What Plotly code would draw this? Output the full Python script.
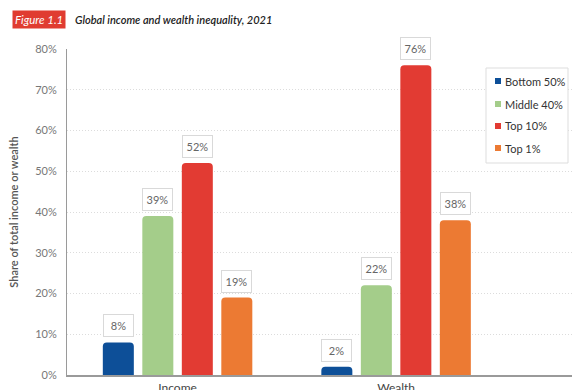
import plotly.graph_objects as go

# ---- data ----
categories = ["Income", "Wealth"]
groups = ["Bottom 50%", "Middle 40%", "Top 10%", "Top 1%"]
bottom50 = [8, 2]
middle40 = [39, 22]
top10 = [52, 76]
top1 = [19, 38]
series = [bottom50, middle40, top10, top1]
colors = ["#0D4F98", "#A4CD8A", "#E23B33", "#EC7A33"]
y_tick_vals = [0, 10, 20, 30, 40, 50, 60, 70, 80]
y_tick_text = [f"{v}%" for v in y_tick_vals]

title_tag = "Figure 1.1"
title_text = "Global income and wealth inequality, 2021"
y_title = "Share of total income or wealth"

# ---- layout constants ----
W, H = 572, 390
ML, MR, MT, MB = 67, 0, 49, 15
PW, PH = W - ML - MR, H - MT - MB
BARGAP = 0.277
BARGROUPGAP = 0.215
FONT = "Lato"

def px_x(px):
    return (px - ML) / PW

def px_y(py):
    return (H - MB - py) / PH

xpos = list(range(len(categories)))

fig = go.Figure()
for name, vals, col in zip(groups, series, colors):
    fig.add_trace(go.Bar(
        x=xpos, y=vals, name=name, marker=dict(color=col, line=dict(width=0)),
        showlegend=False, hoverinfo="skip",
    ))

# value labels in boxes
slot = (1 - BARGAP) / len(groups)
annotations = []
for gi, vals in enumerate(series):
    for ci, v in enumerate(vals):
        annotations.append(dict(
            x=ci + (gi - (len(groups) - 1) / 2) * slot, y=v, xref="x", yref="y",
            text=f"{v}%", showarrow=False, yanchor="bottom", yshift=5,
            font=dict(family=FONT, size=11, color="#666"),
            bgcolor="white", bordercolor="#D9D9D9", borderwidth=1,
            borderpad=2, width=25, height=17, align="center", valign="middle",
        ))

# title
annotations.append(dict(
    x=px_x(12), y=px_y(19), xref="paper", yref="paper", xanchor="left", yanchor="middle",
    text=title_tag, showarrow=False, bgcolor="#E03C31", borderpad=2,
    font=dict(family=FONT, size=11.5, color="white", style="italic"),
))
annotations.append(dict(
    x=px_x(73), y=px_y(19), xref="paper", yref="paper", xanchor="left", yanchor="middle",
    text=title_text, showarrow=False,
    font=dict(family=FONT, size=11, color="#222", style="italic", weight=600),
))

# custom legend
shapes = [dict(type="rect", xref="paper", yref="paper",
               x0=px_x(486), x1=px_x(568), y0=px_y(163), y1=px_y(68),
               line=dict(color="#DDDDDD", width=1), fillcolor="white", layer="above")]
legend_y = [81, 104, 126, 148]
for name, col, ly in zip(groups, colors, legend_y):
    shapes.append(dict(type="rect", xref="paper", yref="paper",
                       x0=px_x(495), x1=px_x(501), y0=px_y(ly + 3), y1=px_y(ly - 3),
                       line=dict(width=0), fillcolor=col, layer="above"))
    annotations.append(dict(
        x=px_x(503), y=px_y(ly), xref="paper", yref="paper", xanchor="left", yanchor="middle",
        text=name, showarrow=False, font=dict(family=FONT, size=11, color="#333"),
    ))

fig.update_layout(
    width=W, height=H,
    margin=dict(l=ML, r=MR, t=MT, b=MB),
    paper_bgcolor="white", plot_bgcolor="white",
    barmode="group", bargap=BARGAP, bargroupgap=BARGROUPGAP,
    barcornerradius=4,
    font=dict(family=FONT, color="#666"),
    annotations=annotations, shapes=shapes,
    xaxis=dict(
        range=[-0.506, 1.805], tickvals=xpos, ticktext=categories, automargin=False,
        showgrid=False, zeroline=False, showline=True, linecolor="#9A9A9A", linewidth=1.5,
        ticks="", ticklabelstandoff=1, tickfont=dict(family=FONT, size=12, color="#444"),
    ),
    yaxis=dict(
        range=[0, 80], tickvals=y_tick_vals, ticktext=y_tick_text, automargin=False,
        showgrid=True, gridcolor="#DCDCDC", griddash="1px,2px", gridwidth=1,
        zeroline=False, showline=True, linecolor="#9A9A9A", linewidth=1,
        ticks="", ticklabelstandoff=7, tickfont=dict(family=FONT, size=11, color="#777"),
        title=dict(text=y_title, standoff=14,
                   font=dict(family=FONT, size=11, color="#555", weight=600)),
    ),
)

fig.write_html("out.html", config={"displayModeBar": False},
               post_script="document.body.style.margin='0';document.body.style.overflow='hidden';")
